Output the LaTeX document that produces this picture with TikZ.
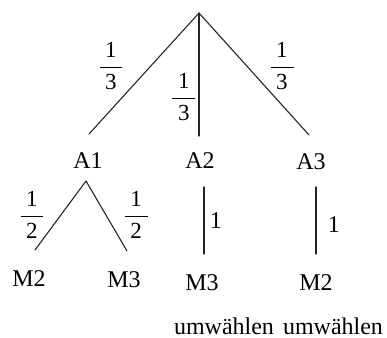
\documentclass[tikz,border=0pt]{standalone}
\usepackage{fontspec}
\setmainfont{Liberation Serif}
\newcommand{\bruch}[2]{$\displaystyle\frac{\makebox[11.5pt]{#1}}{\makebox[11.5pt]{#2}}$}
\begin{document}
\begin{tikzpicture}
% Baumdiagramm, Koordinaten in Pixeln
\def\pxsz{0.5pt}
\providecommand{\astColor}{black!85}
\providecommand{\astWidth}{0.55pt}
\tikzset{
  lbl/.style={inner sep=0pt, font=\fontsize{12}{14}\selectfont},
  wkt/.style={inner sep=0pt, font=\fontsize{11.5}{13}\selectfont},
  ast/.style={draw=\astColor, line width=\astWidth, line cap=round}
}
\begin{scope}[x=\pxsz, y=-\pxsz]
  % Rahmen
  \useasboundingbox (0,0) rectangle (387,338);
  % Punkte der Aeste
  \coordinate (root) at (199,13);
  \coordinate (endA1) at (89,134);
  \coordinate (endA2) at (199,136);
  \coordinate (endA3) at (309,135);
  \coordinate (subA1) at (86,181);
  \coordinate (endM2l) at (35,250);
  \coordinate (endM3l) at (127,251);
  \coordinate (subA2) at (204,187);
  \coordinate (endM3m) at (204,254);
  \coordinate (subA3) at (316,187);
  \coordinate (endM2r) at (316,254);
  % Erste Stufe
  \draw[ast] (root) -- (endA1);
  \draw[ast] (root) -- (endA2);
  \draw[ast] (root) -- (endA3);
  \node[lbl] (A1) at (88,161) {A1};
  \node[lbl] (A2) at (200,161) {A2};
  \node[lbl] (A3) at (311,162) {A3};
  \node[wkt] (pA1) at (111,66) {\bruch{1}{3}};
  \node[wkt] (pA2) at (184,97) {\bruch{1}{3}};
  \node[wkt] (pA3) at (282,66) {\bruch{1}{3}};
  % Zweite Stufe
  \draw[ast] (subA1) -- (endM2l);
  \draw[ast] (subA1) -- (endM3l);
  \draw[ast] (subA2) -- (endM3m);
  \draw[ast] (subA3) -- (endM2r);
  \node[wkt] (pM2l) at (32,215) {\bruch{1}{2}};
  \node[wkt] (pM3l) at (136,215) {\bruch{1}{2}};
  \node[lbl] (pM3m) at (216,221) {1};
  \node[lbl] (pM2r) at (334,225) {1};
  \node[lbl] (M2l) at (29,279) {M2};
  \node[lbl] (M3l) at (124,280) {M3};
  \node[lbl] (M3m) at (202,283) {M3};
  \node[lbl] (M2r) at (316,283) {M2};
  % Umwaehlen
  \node[lbl, anchor=base] (U1) at (224,334) {umwählen};
  \node[lbl, anchor=base] (U2) at (333,334) {umwählen};
\end{scope}
\end{tikzpicture}
\end{document}
